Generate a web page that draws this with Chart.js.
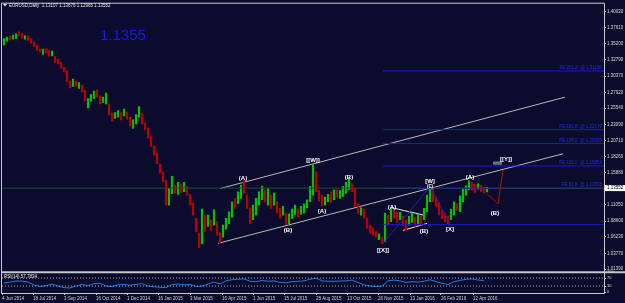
<!DOCTYPE html>
<html><head><meta charset="utf-8">
<script src="https://cdn.jsdelivr.net/npm/chart.js@4"></script>
<style>html,body{margin:0;padding:0;background:#0b0b2e;overflow:hidden}canvas{display:block}</style>
</head><body>
<canvas id="c" width="625" height="303"></canvas>
<script>
// ---------- data ----------
const headerText = "EURUSD,Daily  1.13107 1.13676 1.12965 1.13552";
const bigPriceText = "1.1355";
const rsiTitle = "RSI(14) 57.7834";
const barStep = 3; // bars sampled every 3 trading days
const lows = [
1.3503,1.3560,1.3580,1.3590,1.3600,1.3640,1.3600,1.3590,1.3570,1.3530,
1.3480,1.3420,1.3400,1.3360,1.3380,1.3330,1.3340,1.3240,1.3220,1.3150,
1.3100,1.2950,1.2860,1.2880,1.2880,1.2850,1.2800,1.2660,1.2560,1.2660,
1.2700,1.2720,1.2620,1.2640,1.2620,1.2450,1.2360,1.2400,1.2420,1.2380,
1.2440,1.2390,1.2290,1.2250,1.2320,1.2420,1.2320,1.2230,1.2110,1.1980,
1.1850,1.1720,1.1580,1.1450,1.1100,1.1100,1.1270,1.1280,1.1260,1.1290,
1.1300,1.1250,1.1100,1.0950,1.0700,1.0460,1.0520,1.0700,1.0780,1.0720,
1.0800,1.0650,1.0520,1.0620,1.0740,1.0820,1.0920,1.1050,1.1120,1.1200,
1.1280,1.1050,1.0820,1.0880,1.0950,1.1100,1.1180,1.1150,1.1100,1.1050,
1.1100,1.0980,1.0900,1.0950,1.0810,1.0820,1.0900,1.0960,1.0920,1.0960,
1.0980,1.1060,1.1150,1.1250,1.1300,1.1160,1.1090,1.1100,1.1150,1.1140,
1.1180,1.1220,1.1200,1.1230,1.1280,1.1330,1.1300,1.1080,1.0980,1.0950,
1.0900,1.0750,1.0680,1.0650,1.0620,1.0580,1.0520,1.0550,1.0800,1.0850,
1.0900,1.0840,1.0880,1.0800,1.0720,1.0800,1.0840,1.0780,1.0820,1.0800,
1.0880,1.1000,1.1150,1.1150,1.1080,1.0950,1.0900,1.0850,1.0822,1.0880,
1.0950,1.1020,1.1000,1.1150,1.1250,1.1330,1.1320,1.1290,1.1340,1.1300,
1.1280,1.1297];
const highs = [
1.3600,1.3620,1.3640,1.3650,1.3670,1.3700,1.3680,1.3640,1.3640,1.3600,
1.3545,1.3500,1.3440,1.3440,1.3450,1.3420,1.3410,1.3330,1.3290,1.3240,
1.3170,1.3120,1.2960,1.2990,1.2960,1.2940,1.2900,1.2820,1.2700,1.2760,
1.2810,1.2830,1.2740,1.2720,1.2780,1.2620,1.2480,1.2490,1.2520,1.2490,
1.2540,1.2500,1.2420,1.2380,1.2460,1.2580,1.2480,1.2330,1.2260,1.2130,
1.1990,1.1880,1.1720,1.1600,1.1470,1.1350,1.1530,1.1400,1.1440,1.1420,
1.1440,1.1380,1.1260,1.1130,1.0900,1.0680,1.1040,1.0950,1.0950,1.0880,
1.1030,1.0850,1.0680,1.0800,1.0900,1.1000,1.1150,1.1200,1.1300,1.1400,
1.1470,1.1250,1.1060,1.1100,1.1200,1.1300,1.1385,1.1330,1.1350,1.1250,
1.1280,1.1150,1.1050,1.1080,1.0980,1.0970,1.1040,1.1100,1.1040,1.1080,
1.1120,1.1180,1.1380,1.1714,1.1600,1.1320,1.1250,1.1220,1.1260,1.1300,
1.1330,1.1330,1.1320,1.1380,1.1440,1.1495,1.1420,1.1340,1.1120,1.1060,
1.1040,1.0900,1.0800,1.0760,1.0710,1.0670,1.0620,1.0980,1.0950,1.1060,
1.1030,1.0990,1.0990,1.0930,1.0880,1.0930,1.0980,1.0920,1.0960,1.0940,
1.1050,1.1250,1.1376,1.1340,1.1220,1.1140,1.1020,1.0980,1.0940,1.1040,
1.1150,1.1120,1.1240,1.1340,1.1390,1.1465,1.1440,1.1410,1.1420,1.1400,
1.1370,1.1368];
const upBars = [
1,1,0,1,1,0,0,1,0,0, 0,0,0,1,0,0,1,0,0,0, 0,0,0,1,0,1,0,0,1,1,
1,0,0,1,1,0,0,1,1,0, 1,0,0,1,1,1,0,0,0,0, 0,0,0,0,0,1,1,0,1,0,
1,0,0,0,0,0,1,0,1,0, 1,0,0,1,1,1,1,0,1,1, 0,0,0,1,1,1,1,0,1,0,
1,0,0,1,0,1,1,1,0,1, 1,1,1,1,0,0,0,1,1,0, 1,0,1,1,1,1,0,0,0,1,
0,0,0,0,0,1,0,1,0,1, 0,0,1,0,0,1,1,0,1,0, 1,1,1,0,0,0,0,0,0,1,
1,0,1,1,1,1,0,0,1,0, 0,1];
const rsiStep = 6;
const rsiValues = [
45,50,55,55,50,36,28,32,40,30,22,20,30,38,32,42,44,30,28,36,
38,34,38,42,30,26,24,22,38,40,36,38,28,30,40,50,40,56,62,64,
66,54,52,58,54,56,48,46,52,54,56,64,70,56,54,54,55,56,60,48,
36,30,28,30,56,60,56,48,52,50,54,62,52,44,38,52,58,64,66,60,58];
const rsiLevels = [70, 30];
const rsiTicks = [0, 30, 70, 100];
const priceTicks = [1.40030,1.37610,1.35200,1.32790,1.30370,1.27920,1.25540,1.23090,1.20710,1.18260,1.15880,1.11050,1.08600,1.06230,1.03770,1.01390];
const dateTickBars = [-2,29,60,92,123,154,186,218,249,280,312,343,374,406,437,469];
const dateTickLabels = ["4 Jun 2014","18 Jul 2014","3 Sep 2014","16 Oct 2014","1 Dec 2014","16 Jan 2015","3 Mar 2015","16 Apr 2015","1 Jun 2015","15 Jul 2015","28 Aug 2015","13 Oct 2015","26 Nov 2015","13 Jan 2016","26 Feb 2016","12 Apr 2016"];
const bidPrice = 1.13552;
const fibStartBar = 379;
const fibLevels = [1.3113, 1.2232, 1.2024, 1.1687, 1.1351, 1.0806];
const fibLabels = ["FE 261.8  @ 1.31130","FE 161.8  @ 1.22170","FE 138.2  @ 1.20200","FE 100.0  @ 1.16854","FE 61.8  @ 1.13508",""];
const channelUpper = [[216,1.1348],[561,1.2720]];
const channelLower = [[214,1.0527],[559,1.1870]];
const triangleUpper = [[387,1.1064],[421,1.0945]];
const triangleLower = [[399,1.0721],[423,1.0825]];
const wavePath = [[379,1.0527],[426,1.1376],[446,1.0822]];
const projectionPath = [[483,1.1268],[494,1.1119],[499,1.1626]];
const waveLabelText  = ["(A)","[[W]]","(B)","(B)","(A)","(A)","(B)","[[X]]","[W]","(C)","[X]","(A)","(B)","[[Y]]"];
const waveLabelBar   = [239,309,345,284,318,388,420,379,426,426,446,466,491,502];
const waveLabelPrice = [1.1497,1.1765,1.1512,1.0721,1.1004,1.1064,1.0706,1.0423,1.1452,1.1370,1.0736,1.1512,1.0974,1.1780];
const yTagBox = [[489,498],[1.1755,1.1706]];

// ---------- build ----------
const FONT = '"Liberation Sans", Arial, sans-serif';
const BG = '#0b0b2e';
const candleData = lows.map((lo, i) => ({x: i * barStep, y: [lo, highs[i]]}));
const candleColors = upBars.map(u => u ? '#00c400' : '#bc0000');
const rsiData = rsiValues.map((v, i) => ({x: i * rsiStep, y: v}));
const pts = arr => arr.map(p => ({x: p[0], y: p[1]}));
const xMin = -2, xMax = 600;

function lineDs(data, color, extra) {
  return Object.assign({type: 'line', data, borderColor: color, borderWidth: 1, pointRadius: 0, tension: 0, fill: false}, extra || {});
}

const datasets = [
  lineDs([{x: xMin, y: bidPrice}, {x: xMax, y: bidPrice}], '#2c4636'),
  ...fibLevels.map(lv => lineDs([{x: fibStartBar, y: lv}, {x: xMax, y: lv}], '#1a1ad0')),
  lineDs(pts(wavePath), '#2222b0'),
  {type: 'bar', data: candleData, backgroundColor: candleColors, barThickness: 1.5, borderWidth: 0},
  lineDs(pts(channelUpper), '#b8b8b8'),
  lineDs(pts(channelLower), '#b8b8b8'),
  lineDs(pts(triangleUpper), '#e8e8e8'),
  lineDs(pts(triangleLower), '#e8e8e8'),
  lineDs(pts(projectionPath), '#b01010'),
  ...rsiLevels.map(lv => lineDs([{x: xMin, y: lv}, {x: xMax, y: lv}], '#a8a8a8', {yAxisID: 'rsi', borderDash: [1, 2]})),
  lineDs(rsiData, '#1f78e0', {yAxisID: 'rsi'})
];

const overlay = {
  id: 'overlay',
  beforeDraw(chart) {
    const c = chart.ctx;
    c.save(); c.fillStyle = BG; c.fillRect(0, 0, chart.width, chart.height); c.restore();
  },
  afterDatasetsDraw(chart) {
    const c = chart.ctx, xs = chart.scales.x, ys = chart.scales.y, a = chart.chartArea;
    c.save();
    c.fillStyle = '#5d7c7c';
    const bx0 = xs.getPixelForValue(yTagBox[0][0]), bx1 = xs.getPixelForValue(yTagBox[0][1]);
    const by0 = ys.getPixelForValue(yTagBox[1][0]), by1 = ys.getPixelForValue(yTagBox[1][1]);
    c.fillRect(bx0, by0, bx1 - bx0, by1 - by0);
    c.font = '4.5px ' + FONT; c.fillStyle = '#2a2ae8'; c.textAlign = 'right'; c.textBaseline = 'bottom';
    fibLevels.forEach((lv, i) => { if (fibLabels[i]) c.fillText(fibLabels[i], a.right - 2, ys.getPixelForValue(lv) - 1); });
    c.textAlign = 'center'; c.textBaseline = 'middle'; c.fillStyle = '#ffffff';
    waveLabelText.forEach((t, i) => {
      c.font = (t === '(C)' ? 'bold 4.5px ' : 'bold 6px ') + FONT;
      c.fillText(t, xs.getPixelForValue(waveLabelBar[i]), ys.getPixelForValue(waveLabelPrice[i]));
    });
    c.font = '15px ' + FONT; c.fillStyle = '#1a1ae6'; c.textAlign = 'left'; c.textBaseline = 'alphabetic';
    c.fillText(bigPriceText, 100, 40);
    c.restore();
  },
  afterDraw(chart) {
    const c = chart.ctx, a = chart.chartArea, ys = chart.scales.y;
    c.save();
    c.strokeStyle = '#c8c8c8'; c.lineWidth = 1;
    c.beginPath();
    c.moveTo(a.left - 0.5, a.top - 0.5); c.lineTo(a.right + 0.5, a.top - 0.5);
    c.moveTo(a.left - 0.5, a.top - 0.5); c.lineTo(a.left - 0.5, a.bottom + 0.5);
    c.moveTo(a.right + 0.5, a.top - 0.5); c.lineTo(a.right + 0.5, a.bottom + 0.5);
    c.moveTo(a.left - 0.5, a.bottom + 0.5); c.lineTo(a.right + 0.5, a.bottom + 0.5);
    c.stroke();
    c.lineWidth = 2; c.beginPath();
    c.moveTo(a.left - 1, ys.bottom + 1); c.lineTo(chart.width, ys.bottom + 1); c.stroke();
    c.fillStyle = '#e8e8e8';
    c.beginPath(); c.moveTo(3, 4); c.lineTo(7, 4); c.lineTo(5, 6.5); c.closePath(); c.fill();
    c.font = '4.5px ' + FONT; c.textAlign = 'left'; c.textBaseline = 'middle';
    c.fillText(headerText, 9, 5.5);
    c.fillText(rsiTitle, 4, 276.5);
    const py = ys.getPixelForValue(bidPrice);
    c.fillStyle = '#ffffff'; c.fillRect(a.right + 1, py - 3, chart.width - a.right - 1, 6);
    c.fillStyle = '#000000'; c.fillText(bidPrice.toFixed(5), a.right + 3, py);
    c.restore();
  }
};

const axisFont = {size: 4.5, family: FONT};
new Chart(document.getElementById('c'), {
  type: 'bar',
  data: {datasets},
  plugins: [overlay],
  options: {
    responsive: false, animation: false, devicePixelRatio: 1,
    layout: {padding: {left: 2, top: 2, right: 0, bottom: 0}},
    plugins: {legend: {display: false}, tooltip: {enabled: false}},
    scales: {
      x: {
        type: 'linear', position: 'bottom', min: xMin, max: xMax, offset: false,
        afterBuildTicks: s => { s.ticks = dateTickBars.map(v => ({value: v})); },
        afterFit: s => { s.height = 10; },
        ticks: {autoSkip: false, maxRotation: 0, align: 'start', padding: 1, color: '#d0d0d0', font: axisFont,
                callback: (v, i) => dateTickLabels[i]},
        grid: {drawOnChartArea: false, drawTicks: true, tickLength: 2, color: '#c8c8c8', offset: false},
        border: {display: false}
      },
      y: {
        type: 'linear', position: 'right', stack: 'panels', stackWeight: 269,
        min: 1.01092, max: 1.41224, beginAtZero: false,
        afterBuildTicks: s => { s.ticks = priceTicks.map(v => ({value: v})); },
        afterFit: s => { s.width = 21; },
        ticks: {autoSkip: false, padding: 1, color: '#d8d8d8', font: axisFont, callback: v => v.toFixed(5)},
        grid: {drawOnChartArea: false, drawTicks: true, tickLength: 2, color: '#c8c8c8'},
        border: {display: false}
      },
      rsi: {
        type: 'linear', axis: 'y', position: 'right', stack: 'panels', stackWeight: 22,
        min: -5, max: 105, beginAtZero: false,
        afterBuildTicks: s => { s.ticks = rsiTicks.map(v => ({value: v})); },
        afterFit: s => { s.width = 21; },
        ticks: {autoSkip: false, padding: 1, color: '#d8d8d8', font: {size: 4, family: FONT}, callback: v => String(v)},
        grid: {drawOnChartArea: false, drawTicks: true, tickLength: 2, color: '#c8c8c8'},
        border: {display: false}
      }
    }
  }
});
</script>
</body></html>
